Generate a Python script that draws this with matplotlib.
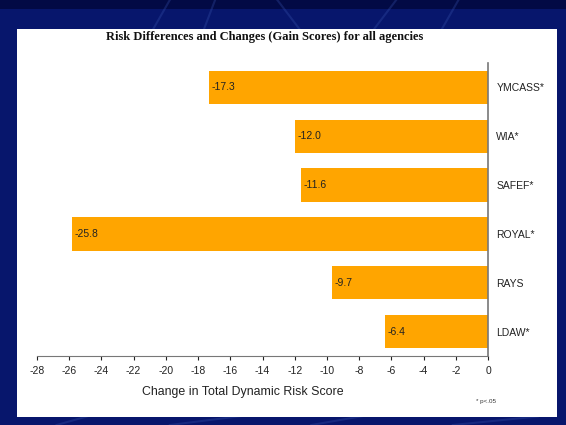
import matplotlib.pyplot as plt
from matplotlib.patches import Rectangle
from matplotlib.lines import Line2D

agencies = ["YMCASS*", "WIA*", "SAFEF*", "ROYAL*", "RAYS", "LDAW*"]
changes = [-17.3, -12.0, -11.6, -25.8, -9.7, -6.4]
ticks = list(range(-28, 1, 2))

fig = plt.figure(figsize=(5.66, 4.25), dpi=100)
fig.patch.set_facecolor("#07166c")

# faint streaks in the slide background
for x0, y0, x1, y1 in [(0.27, 0.93, 0.30, 1.0), (0.36, 0.93, 0.38, 1.0), (0.53, 0.93, 0.49, 1.0),
                       (0.66, 0.93, 0.70, 1.0), (0.78, 0.93, 0.81, 1.0), (0.10, 0.0, 0.18, 0.03),
                       (0.30, 0.0, 0.45, 0.025), (0.55, 0.0, 0.68, 0.03), (0.80, 0.0, 0.95, 0.02)]:
    fig.lines.append(Line2D([x0, x1], [y0, y1], transform=fig.transFigure,
                            color="#3a55b0", lw=1.5, alpha=0.3, zorder=-6))
fig.patches.append(Rectangle((0, 0.98), 1, 0.02, transform=fig.transFigure,
                             facecolor="#020a45", edgecolor="none", zorder=-7))

# white slide panel
fig.patches.append(Rectangle((17 / 566, 8 / 425), 540 / 566, 388 / 425,
                             transform=fig.transFigure, facecolor="white",
                             edgecolor="none", zorder=-5))

ax = fig.add_axes([37 / 566, 69 / 425, 451 / 566, 293 / 425])
ax.set_zorder(2)
ax.patch.set_alpha(0)

y = list(range(len(agencies)))
ax.barh(y, changes, height=0.68, color="#ffa500", zorder=2)
for yi, v in zip(y, changes):
    ax.text(v + 0.15, yi, f"{v:.1f}", va="center", ha="left", fontsize=7.5,
            family="Liberation Sans", color="#222222", zorder=3)

ax.set_xlim(-28, 0)
ax.set_ylim(len(agencies) - 0.5, -0.5)
ax.set_xticks(ticks)
ax.set_xticklabels([str(t) for t in ticks], family="Liberation Sans", fontsize=7.5)
ax.tick_params(axis="x", direction="out", length=3, pad=4.5, colors="#222222")

ax.yaxis.tick_right()
ax.set_yticks(y)
ax.set_yticklabels(agencies, family="Liberation Sans", fontsize=7.5)
ax.tick_params(axis="y", length=0, pad=6, colors="#222222")

for s in ["top", "left"]:
    ax.spines[s].set_visible(False)
ax.spines["bottom"].set_color("#777777")
ax.spines["right"].set_color("#777777")
ax.spines["right"].set_linewidth(1.2)

fig.text(243 / 566, 1 - 392 / 425, "Change in Total Dynamic Risk Score", ha="center", va="center",
         family="Liberation Sans", fontsize=8.9, color="#222222")

fig.text(265 / 566, 1 - 37 / 425, "Risk Differences and Changes (Gain Scores) for all agencies",
         ha="center", va="center", family="Liberation Serif", fontweight="bold",
         fontsize=9, color="#111111")
fig.text(496 / 566, 1 - 402 / 425, "* p<.05", ha="right", va="center",
         family="Liberation Sans", fontsize=4.5, color="#333333")

fig.savefig("out.png", dpi=100, facecolor=fig.get_facecolor())
